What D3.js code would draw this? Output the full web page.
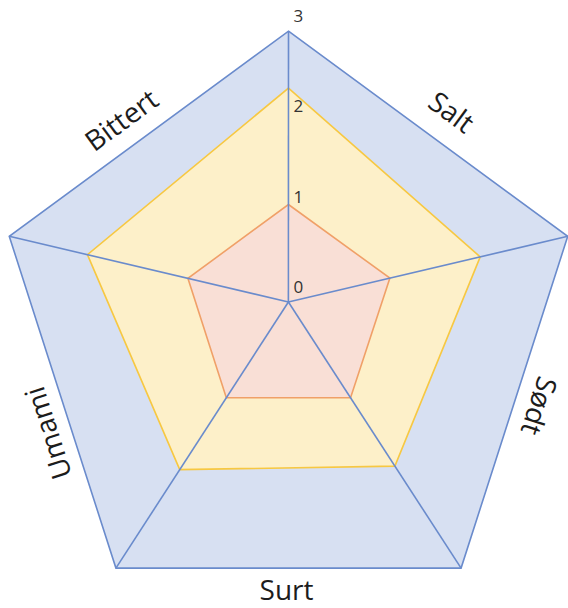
<!DOCTYPE html>
<html>
<head>
<meta charset="utf-8">
<script src="https://cdn.jsdelivr.net/npm/d3@7"></script>
<style>
  body { margin: 0; background: #fff; }
  svg { display: block; }
  text { font-family: "Open Sans", "DejaVu Sans", sans-serif; }
</style>
</head>
<body>
<svg id="chart" width="568" height="608"></svg>
<script>
// smaker, en per kant, med klokka fra toppen
var smaker = ["Salt", "Sødt", "Surt", "Umami", "Bittert"];
var tickVerdier = [0, 1, 2, 3];
var maks = [3, 3, 3, 3, 3];
var midt = [2.37, 2.06, 1.85, 1.89, 2.16];
var lav = [1.08, 1.09, 1.08, 1.08, 1.08];

var W = 568, H = 608;
var cx = 288.5, cy = 328, rx = 293.6, ry = 296.8;
var hub = [288.4, 302];
var svg = d3.select("#chart");

// en skala per akse, fra nav til ytterhjørne
var vinkel = d3.scaleLinear().domain([0, 5]).range([0, 2 * Math.PI]);
var akser = d3.range(5).map(function (i) {
  var a = vinkel(i);
  var ende = [cx + rx * Math.sin(a), cy - ry * Math.cos(a)];
  return d3.scaleLinear().domain([0, 3]).range([hub, ende]);
});

var serier = [
  { verdier: maks, fyll: "#d7e0f2", strek: "#6a8bcc" },
  { verdier: midt, fyll: "#fdf0c9", strek: "#f7c842" },
  { verdier: lav, fyll: "#f9dfd6", strek: "#f0a068" }
];

var linje = d3.line().curve(d3.curveLinearClosed);

svg.selectAll(".serie")
  .data(serier)
  .enter()
  .append("path")
  .attr("class", "serie")
  .attr("d", function (s) {
    return linje(s.verdier.map(function (v, i) { return akser[i](v); }));
  })
  .attr("fill", function (s) { return s.fyll; })
  .attr("stroke", function (s) { return s.strek; })
  .attr("stroke-width", 1.6)
  .attr("stroke-linejoin", "miter");

// eikene
svg.selectAll(".eike")
  .data(akser)
  .enter()
  .append("line")
  .attr("class", "eike")
  .attr("x1", function (s) { return s(0)[0]; })
  .attr("y1", function (s) { return s(0)[1]; })
  .attr("x2", function (s) { return s(3)[0]; })
  .attr("y2", function (s) { return s(3)[1]; })
  .attr("stroke", "#6a8bcc")
  .attr("stroke-width", 1.6);

// tall langs toppaksen
svg.selectAll(".tick")
  .data(tickVerdier)
  .enter()
  .append("text")
  .attr("class", "tick")
  .attr("x", function (t) { return akser[0](t)[0] + 5; })
  .attr("y", function (t) { return akser[0](t)[1] - 9; })
  .attr("font-size", 17)
  .attr("fill", "#333")
  .text(function (t) { return t; });

// navn langs kantene: [langs kanten, ut fra kanten]
var flytt = [[6, 31], [-4, 24.5], [2, 22], [-25, 23], [-14, 27]];

svg.selectAll(".smak")
  .data(smaker)
  .enter()
  .append("text")
  .attr("class", "smak")
  .attr("text-anchor", "middle")
  .attr("dy", "0.35em")
  .attr("font-size", 28)
  .attr("fill", "#1c1c1c")
  .attr("transform", function (d, i) {
    var p = akser[i](3), q = akser[(i + 1) % 5](3);
    var dx = q[0] - p[0], dy = q[1] - p[1];
    var len = Math.sqrt(dx * dx + dy * dy);
    var ux = dx / len, uy = dy / len;
    var x = (p[0] + q[0]) / 2 + flytt[i][0] * ux + flytt[i][1] * uy;
    var y = (p[1] + q[1]) / 2 + flytt[i][0] * uy - flytt[i][1] * ux;
    var a = Math.atan2(dy, dx) * 180 / Math.PI;
    if (ux < -0.9) a += 180;
    return "translate(" + x + "," + y + ") rotate(" + a + ")";
  })
  .text(function (d) { return d; });
</script>
</body>
</html>
